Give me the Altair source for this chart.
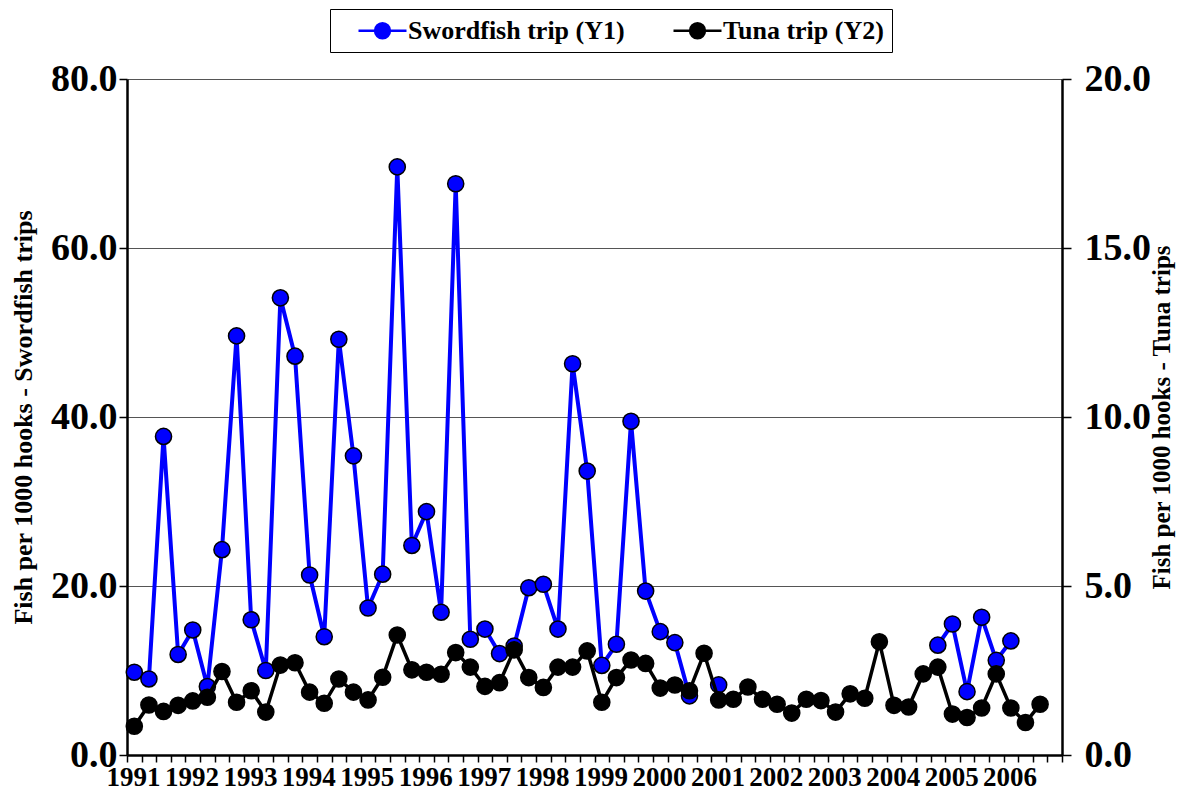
import altair as alt
import pandas as pd

# ---- data (quarterly, 1991 Q1 .. 2006 Q4) ----
years = [str(y) for y in range(1991, 2007)]
quarters = ["Q1", "Q2", "Q3", "Q4"]
categories = [f"{y} {q}" for y in years for q in quarters]

swordfish = [
    9.8, 9.0, 37.7, 11.9,
    14.8, 8.1, 24.3, 49.6,
    16.0, 10.0, 54.1, 47.2,
    21.3, 14.0, 49.2, 35.4,
    17.4, 21.4, 69.6, 24.8,
    28.8, 16.9, 67.6, 13.7,
    14.9, 12.0, 12.9, 19.8,
    20.2, 14.9, 46.3, 33.6,
    10.6, 13.1, 39.5, 19.4,
    14.6, 13.3, 7.0, None,
    8.3, None, None, None,
    None, None, None, None,
    None, None, None, None,
    None, None, None, 13.0,
    15.5, 7.5, 16.3, 11.2,
    13.5, None, None, None,
]

tuna = [
    0.85, 1.48, 1.29, 1.47,
    1.60, 1.71, 2.47, 1.56,
    1.90, 1.27, 2.66, 2.73,
    1.86, 1.53, 2.25, 1.86,
    1.63, 2.30, 3.55, 2.52,
    2.45, 2.39, 3.03, 2.60,
    2.03, 2.14, 3.11, 2.29,
    2.00, 2.60, 2.60, 3.08,
    1.56, 2.29, 2.81, 2.71,
    1.98, 2.07, 1.90, 3.01,
    1.63, 1.65, 2.01, 1.65,
    1.50, 1.24, 1.65, 1.61,
    1.27, 1.81, 1.68, 3.35,
    1.47, 1.42, 2.40, 2.60,
    1.21, 1.11, 1.39, 2.40,
    1.39, 0.96, 1.50, None,
]

series_names = ["Swordfish trip (Y1)", "Tuna trip (Y2)"]
series_colors = ["#0000FF", "#000000"]

n = len(categories)
df_s = pd.DataFrame({
    "category": categories,
    "pos": [i + 0.5 for i in range(n)],
    "value": pd.array(swordfish, dtype="Float64").astype(float),
    "series": series_names[0],
})
df_t = pd.DataFrame({
    "category": categories,
    "pos": [i + 0.5 for i in range(n)],
    "value": pd.array(tuna, dtype="Float64").astype(float),
    "series": series_names[1],
})

FONT = "Liberation Serif"
label_arr = "[" + ",".join(f"'{y}'" for y in years) + "]"
x_label_expr = f"(datum.value % 4 == 0 && datum.value < {n}) ? {label_arr}[datum.value / 4] : ''"

x_enc = alt.X(
    "pos:Q",
    scale=alt.Scale(domain=[0, n], nice=False, zero=False),
    axis=alt.Axis(
        values=list(range(n + 1)),
        labelExpr=x_label_expr,
        labelOffset=6,
        labelFlush=False,
        labelOverlap=False,
        labelBound=False,
        labelFont=FONT,
        labelFontSize=27,
        labelFontWeight="bold",
        labelColor="black",
        labelPadding=2,
        tickSize=7,
        tickWidth=1.5,
        tickColor="black",
        domainColor="black",
        domainWidth=2.5,
        grid=False,
        title=None,
    ),
)

color_scale = alt.Scale(domain=series_names, range=series_colors)

# legend symbol: a short line with a circle in its middle
legend_symbol = (
    "M-2,0L-0.62,0M0.62,0L2,0"
    "M0.62,0A0.62,0.62,0,1,1,-0.62,0A0.62,0.62,0,1,1,0.62,0Z"
)


def make_legend():
    return alt.Legend(
        orient="none",
        legendX=203,
        legendY=-70,
        direction="horizontal",
        title=None,
        symbolType=legend_symbol,
        symbolSize=576,
        symbolOffset=31,
        symbolStrokeWidth=2.5,
        labelFont=FONT,
        labelFontSize=26,
        labelFontWeight="bold",
        labelColor="black",
        labelLimit=400,
        labelOffset=12,
        columnPadding=28,
        padding=8,
        strokeColor="black",
        fillColor="white",
    )


y_left = alt.Y(
    "value:Q",
    scale=alt.Scale(domain=[0, 80], nice=False),
    axis=alt.Axis(
        orient="left",
        values=[0, 20, 40, 60, 80],
        format=".1f",
        labelFont=FONT,
        labelFontSize=38,
        labelFontWeight="bold",
        labelColor="black",
        labelPadding=2,
        tickSize=8,
        tickWidth=1.5,
        tickColor="black",
        domainColor="black",
        domainWidth=2.5,
        grid=True,
        gridColor="#555555",
        gridWidth=1.2,
        title="Fish per 1000 hooks - Swordfish trips",
        titleFont=FONT,
        titleFontSize=26,
        titleFontWeight="bold",
        titleColor="black",
        titlePadding=14,
    ),
)

y_right = alt.Y(
    "value:Q",
    scale=alt.Scale(domain=[0, 20], nice=False),
    axis=alt.Axis(
        orient="right",
        values=[0, 5, 10, 15, 20],
        format=".1f",
        labelFont=FONT,
        labelFontSize=38,
        labelFontWeight="bold",
        labelColor="black",
        labelPadding=13,
        tickSize=9,
        tickWidth=1.5,
        tickColor="black",
        domainColor="black",
        domainWidth=2.5,
        grid=False,
        title="Fish per 1000 hooks - Tuna trips",
        titleAngle=270,
        titleFont=FONT,
        titleFontSize=25,
        titleFontWeight="bold",
        titleColor="black",
        titlePadding=24,
    ),
)

sw_line = alt.Chart(df_s).mark_line(strokeWidth=4).encode(
    x=x_enc, y=y_left,
    color=alt.Color("series:N", scale=color_scale, legend=make_legend()),
)
sw_pts = alt.Chart(df_s).mark_point(
    filled=True, size=260, stroke="black", strokeWidth=1.5, opacity=1
).encode(
    x=x_enc, y=y_left,
    fill=alt.Fill("series:N", scale=color_scale, legend=make_legend()),
)
tu_line = alt.Chart(df_t).mark_line(strokeWidth=3.5).encode(
    x=x_enc, y=y_right,
    color=alt.Color("series:N", scale=color_scale, legend=make_legend()),
)
tu_pts = alt.Chart(df_t).mark_point(
    filled=True, size=260, stroke="black", strokeWidth=1.5, opacity=1
).encode(
    x=x_enc, y=y_right,
    fill=alt.Fill("series:N", scale=color_scale, legend=make_legend()),
)

left = alt.layer(sw_line, sw_pts)
right = alt.layer(tu_line, tu_pts)

chart = (
    alt.layer(left, right)
    .resolve_scale(y="independent")
    .properties(
        width=935,
        height=676,
        autosize=alt.AutoSizeParams(type="none"),
        padding={"left": 119, "top": 71, "right": 116, "bottom": 38},
        background="white",
    )
    .configure_view(stroke=None)
)

chart.save("out.html", embed_options={"renderer": "svg", "actions": False})
